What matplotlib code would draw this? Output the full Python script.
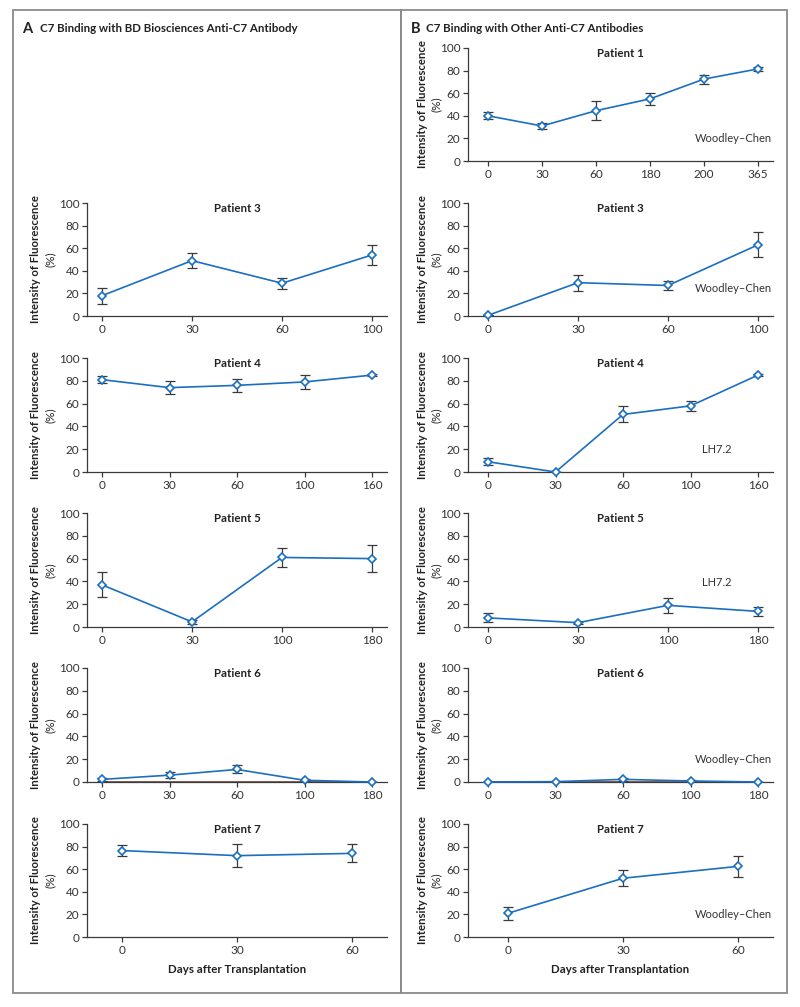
import numpy as np
import matplotlib
matplotlib.use("Agg")
import matplotlib.pyplot as plt
from matplotlib.patches import Rectangle

plt.rcParams['font.family'] = ['Lato', 'DejaVu Sans']

# ---- data ----
# Panel A: BD Biosciences antibody
a_p3_days = ['0', '30', '60', '100']
a_p3_vals = [18, 49, 29, 54]
a_p3_err = [7, 6.5, 5, 9]

a_p4_days = ['0', '30', '60', '100', '160']
a_p4_vals = [81, 74, 76, 79, 85]
a_p4_err = [3, 6, 6, 6, 1]

a_p5_days = ['0', '30', '100', '180']
a_p5_vals = [37, 4.5, 61, 60]
a_p5_err = [11, 2, 8, 12]

a_p6_days = ['0', '30', '60', '100', '180']
a_p6_vals = [2.3, 6, 11, 1.5, 0]
a_p6_err = [1.5, 2.5, 3.5, 1, 0]

a_p7_days = ['0', '30', '60']
a_p7_vals = [76.5, 72, 74]
a_p7_err = [5, 10, 8]

# Panel B: other antibodies
b_p1_days = ['0', '30', '60', '180', '200', '365']
b_p1_vals = [40, 31, 44.5, 55, 72.5, 81.5]
b_p1_err = [3, 2.5, 8.5, 5, 4, 2]

b_p3_days = ['0', '30', '60', '100']
b_p3_vals = [0.6, 29.5, 27, 63]
b_p3_err = [0, 7, 3.7, 11]

b_p4_days = ['0', '30', '60', '100', '160']
b_p4_vals = [9, 0, 50.5, 58, 85]
b_p4_err = [3, 0, 7, 4.7, 1]

b_p5_days = ['0', '30', '100', '180']
b_p5_vals = [8, 3.8, 19, 13.7]
b_p5_err = [4, 1, 6.3, 4]

b_p6_days = ['0', '30', '60', '100', '180']
b_p6_vals = [0, 0.3, 2.3, 0.9, 0]
b_p6_err = [0, 0, 1.5, 0.5, 0]

b_p7_days = ['0', '30', '60']
b_p7_vals = [21, 52, 62.5]
b_p7_err = [5.7, 7, 9]

baseline_p6 = [0, 0, 0, 0, 0]

W, H = 800, 1007
BLUE = '#1b6fc0'
DARK = '#3a3a3a'
TXT = '#222222'

fig = plt.figure(figsize=(W / 100, H / 100), dpi=100)


def px_axes(x0, x1, ytop, ybot):
    return fig.add_axes([x0 / W, 1 - ybot / H, (x1 - x0) / W, (ybot - ytop) / H])


def draw(ax, days, vals, err, title, ml, mr, width, lab_dx, note=None,
         base=None, xlabel=False):
    n = len(days)
    x = np.arange(n)
    sp = (width - ml - mr) / (n - 1)
    if base is not None:
        ax.plot(x, base, color='#7b3f2f', lw=1.2, zorder=2)
    ax.errorbar(x, vals, yerr=err, fmt='none', ecolor=DARK, elinewidth=0.9,
                capsize=3.5, capthick=0.9, zorder=3)
    ax.plot(x, vals, color=BLUE, lw=1.2, marker='D', ms=4.3, mfc='white',
            mec=BLUE, mew=1.2, zorder=4, clip_on=False)
    ax.set_xlim(-ml / sp, n - 1 + mr / sp)
    ax.set_ylim(0, 100)
    ax.set_xticks(x)
    ax.set_xticklabels(days)
    ax.set_yticks([0, 20, 40, 60, 80, 100])
    for s in ['top', 'right']:
        ax.spines[s].set_visible(False)
    for s in ['left', 'bottom']:
        ax.spines[s].set_color(DARK)
        ax.spines[s].set_linewidth(0.9)
    ax.tick_params(direction='out', length=3.5, width=0.9, color=DARK,
                   labelsize=8.5, labelcolor='#333333', pad=2)
    ax.text(0.5, 0.95, title, transform=ax.transAxes, ha='center', va='center',
            fontsize=8.3, fontweight='bold', color=TXT)
    ax.text(-lab_dx / width, 0.5, 'Intensity of Fluorescence',
            transform=ax.transAxes, rotation=90, ha='center', va='center',
            fontsize=8.2, fontweight='bold', color=TXT)
    ax.text(-(lab_dx - 14) / width, 0.5, '(%)', transform=ax.transAxes,
            rotation=90, ha='center', va='center', fontsize=8.5, color=TXT)
    if note is not None:
        txt, yv, xpx, ha = note
        ax.text(xpx / width, yv / 100, txt, transform=ax.transAxes, ha=ha,
                va='center', fontsize=8, color='#333333')
    if xlabel:
        ax.text(0.5, -0.29, 'Days after Transplantation', transform=ax.transAxes,
                ha='center', va='center', fontsize=8.3, fontweight='bold',
                color=TXT)


rows = [(203, 316), (358, 472), (513, 627), (668, 782), (824, 937)]

# panel A
LX0, LX1 = 87, 387
lw_ = LX1 - LX0
left_sets = [
    (a_p3_days, a_p3_vals, a_p3_err, 'Patient 3', 15, 15),
    (a_p4_days, a_p4_vals, a_p4_err, 'Patient 4', 15, 15),
    (a_p5_days, a_p5_vals, a_p5_err, 'Patient 5', 15, 15),
    (a_p6_days, a_p6_vals, a_p6_err, 'Patient 6', 15, 15),
    (a_p7_days, a_p7_vals, a_p7_err, 'Patient 7', 35, 35),
]
for i, (d, v, e, t, ml, mr) in enumerate(left_sets):
    ax = px_axes(LX0, LX1, *rows[i])
    draw(ax, d, v, e, t, ml, mr, lw_, 51,
         base=baseline_p6 if t == 'Patient 6' else None, xlabel=(i == 4))

# panel B
RX0, RX1 = 468, 773
rw_ = RX1 - RX0
right_rows = [(48, 161)] + rows
right_sets = [
    (b_p1_days, b_p1_vals, b_p1_err, 'Patient 1', 20, 15, ('Woodley\u2013Chen', 20, 304, 'right')),
    (b_p3_days, b_p3_vals, b_p3_err, 'Patient 3', 20, 15, ('Woodley\u2013Chen', 24, 304, 'right')),
    (b_p4_days, b_p4_vals, b_p4_err, 'Patient 4', 20, 15, ('LH7.2', 20, 234, 'left')),
    (b_p5_days, b_p5_vals, b_p5_err, 'Patient 5', 20, 15, ('LH7.2', 39, 234, 'left')),
    (b_p6_days, b_p6_vals, b_p6_err, 'Patient 6', 20, 15, ('Woodley\u2013Chen', 20, 304, 'right')),
    (b_p7_days, b_p7_vals, b_p7_err, 'Patient 7', 40, 35, ('Woodley\u2013Chen', 20, 304, 'right')),
]
for i, (d, v, e, t, ml, mr, note) in enumerate(right_sets):
    ax = px_axes(RX0, RX1, *right_rows[i])
    draw(ax, d, v, e, t, ml, mr, rw_, 46, note=note,
         base=baseline_p6 if t == 'Patient 6' else None, xlabel=(i == 5))

# panel frames
for (x0, x1) in [(13, 401), (401, 787)]:
    fig.patches.append(Rectangle((x0 / W, 1 - 993 / H), (x1 - x0) / W, (993 - 10) / H,
                                 transform=fig.transFigure, fill=False,
                                 edgecolor='#8a8a8a', linewidth=1.3))

fig.text(22 / W, 1 - 29 / H, 'A', fontsize=10.5, fontweight='bold', va='center', color=TXT)
fig.text(40 / W, 1 - 29 / H, 'C7 Binding with BD Biosciences Anti-C7 Antibody',
         fontsize=8.3, fontweight='bold', va='center', color=TXT)
fig.text(411 / W, 1 - 29 / H, 'B', fontsize=10.5, fontweight='bold', va='center', color=TXT)
fig.text(426 / W, 1 - 29 / H, 'C7 Binding with Other Anti-C7 Antibodies',
         fontsize=8.3, fontweight='bold', va='center', color=TXT)

fig.savefig('out.png', dpi=100, facecolor='white')
